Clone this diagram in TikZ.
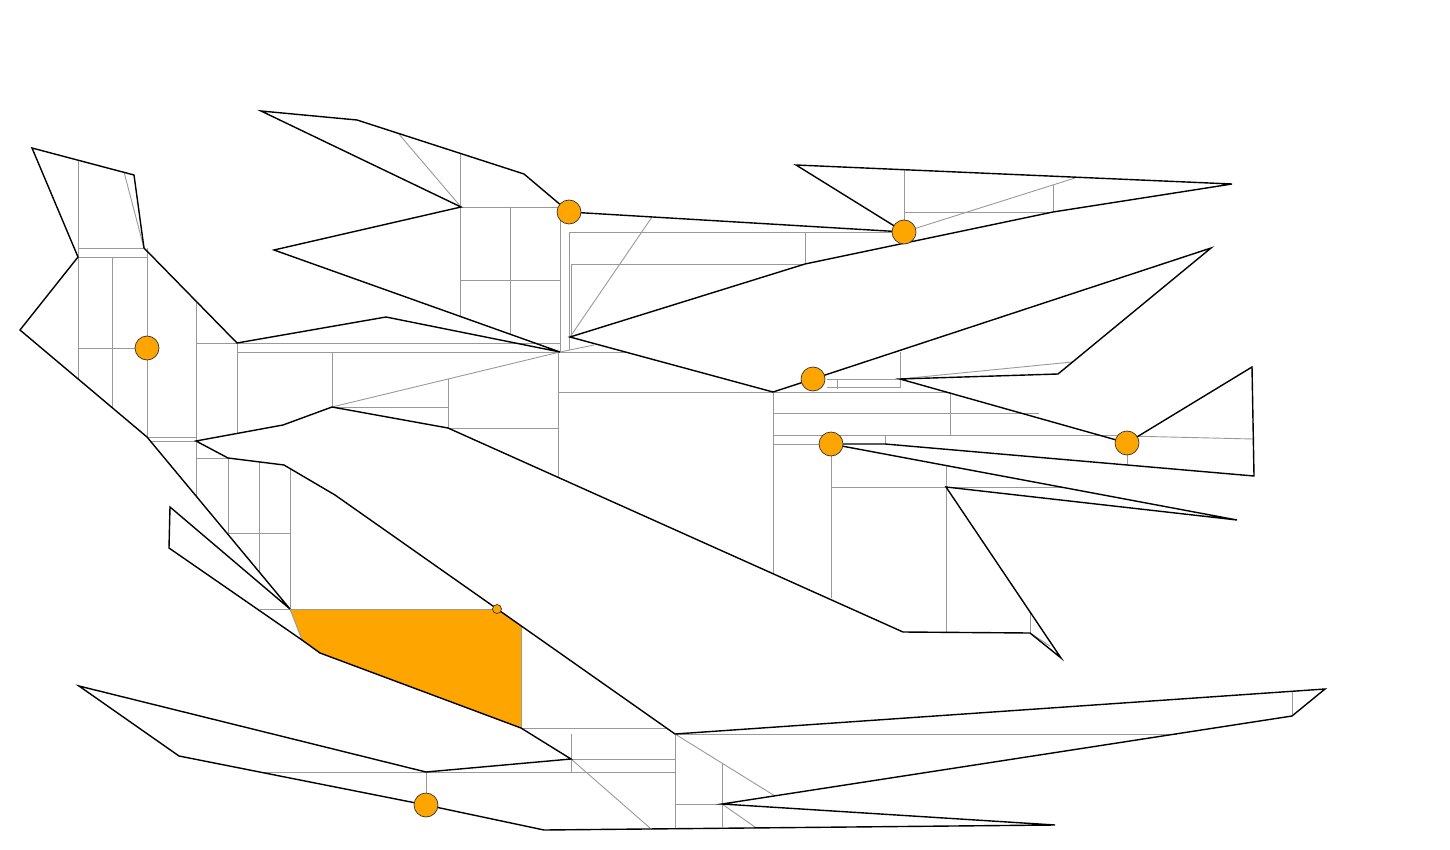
\documentclass[tikz,border=0pt]{standalone}
\usetikzlibrary{calc}
\begin{document}
\begin{tikzpicture}[x=1pt,y=-1pt,
  edge/.style={draw=black,line width=1.4pt,line join=miter},
  aux/.style={draw=gray!80,line width=0.9pt},
  guard/.style={circle,fill=orange,draw=black!80,line width=0.7pt,minimum size=24pt,inner sep=0pt},
  smallguard/.style={circle,fill=orange,draw=black!80,line width=0.7pt,minimum size=9pt,inner sep=0pt}]
\useasboundingbox (0,0) rectangle (1450,850);
\definecolor{orange}{HTML}{FFA500}
% highlighted region
\fill[orange] (290,609) -- (497,609) -- (521,626) -- (521,728) -- (320,653) -- (302,640) -- cycle;
% auxiliary (decomposition) lines
\draw[aux] (78,160) -- (78,379);
\draw[aux] (124,172) -- (144,248);
\draw[aux] (78,248) -- (144,248);
\draw[aux] (78,257) -- (147,257);
\draw[aux] (112,257) -- (112,407);
\draw[aux] (147,248) -- (147,437);
\draw[aux] (78,348) -- (147,348);
\draw[aux] (196,301) -- (196,496);
\draw[aux] (196,343) -- (237,343);
\draw[aux] (237,343) -- (237,433);
\draw[aux] (237,343) -- (560,343);
\draw[aux] (237,352) -- (560,352);
\draw[aux] (147,437) -- (196,437);
\draw[aux] (150,441) -- (196,441);
\draw[aux] (196,458) -- (228,458);
\draw[aux] (228,458) -- (228,534);
\draw[aux] (259,462) -- (259,572);
\draw[aux] (228,533) -- (290,533);
\draw[aux] (290,468) -- (290,609);
\draw[aux] (260,609) -- (497,609);
\draw[aux] (290,609) -- (302,640);
\draw[aux] (521,626) -- (521,728);
\draw[aux] (398,133) -- (461,207);
\draw[aux] (460,153) -- (460,316);
\draw[aux] (460,207) -- (560,207);
\draw[aux] (510,207) -- (510,334);
\draw[aux] (460,280) -- (560,280);
\draw[aux] (560,212) -- (560,352);
\draw[aux] (569,232) -- (569,350);
\draw[aux] (569,232) -- (900,232);
\draw[aux] (805,232) -- (805,264);
\draw[aux] (571,264) -- (805,264);
\draw[aux] (571,264) -- (571,336);
\draw[aux] (652,217) -- (570,337);
\draw[aux] (560,352) -- (332,407);
\draw[aux] (560,352) -- (594,345);
\draw[aux] (560,352) -- (625,352);
\draw[aux] (332,352) -- (332,407);
\draw[aux] (448,379) -- (448,428);
\draw[aux] (332,407) -- (448,407);
\draw[aux] (448,428) -- (558,428);
\draw[aux] (558,352) -- (558,477);
\draw[aux] (558,392) -- (773,392);
\draw[aux] (773,392) -- (773,574);
\draw[aux] (904,170) -- (904,232);
\draw[aux] (904,212) -- (1053,212);
\draw[aux] (1053,185) -- (1053,212);
\draw[aux] (904,232) -- (1075,178);
\draw[aux] (900,352) -- (900,388);
\draw[aux] (900,379) -- (1072,362);
\draw[aux] (827,379) -- (900,379);
\draw[aux] (827,387) -- (900,387);
\draw[aux] (837,379) -- (837,389);
\draw[aux] (773,392) -- (950,392);
\draw[aux] (950,392) -- (950,435);
\draw[aux] (773,413) -- (1039,413);
\draw[aux] (773,435) -- (1127,435);
\draw[aux] (1127,436) -- (1253,439);
\draw[aux] (773,444) -- (831,444);
\draw[aux] (885,435) -- (885,444);
\draw[aux] (831,444) -- (831,598);
\draw[aux] (831,487) -- (1061,487);
\draw[aux] (946,466) -- (946,632);
\draw[aux] (1127,455) -- (1127,465);
\draw[aux] (1030,613) -- (1030,633);
\draw[aux] (1030,633) -- (1050,646);
\draw[aux] (521,728) -- (667,728);
\draw[aux] (571,734) -- (571,772);
\draw[aux] (571,759) -- (675,759);
\draw[aux] (263,772) -- (675,772);
\draw[aux] (426,772) -- (426,793);
\draw[aux] (571,759) -- (650,828);
\draw[aux] (675,734) -- (675,828);
\draw[aux] (675,734) -- (775,796);
\draw[aux] (722,763) -- (722,827);
\draw[aux] (675,804) -- (722,804);
\draw[aux] (722,804) -- (755,827);
\draw[aux] (675,734) -- (1177,734);
\draw[aux] (1292,692) -- (1292,716);
% polygon boundary
\draw[edge] (147,437) -- (290,609) -- (170,507) -- (169,548) -- (302,640) -- (320,653)
  -- (521,728) -- (571,759) -- (426,772) -- (79,686) -- (179,756) -- (426,805)
  -- (544,830) -- (1055,825) -- (722,804) -- (1292,716) -- (1325,689) -- (675,734)
  -- (335,495) -- (284,465) -- (228,458) -- (196,441) -- (283,425) -- (332,407)
  -- (448,428) -- (903,632) -- (1030,633) -- (1061,658) -- (946,487) -- (1237,520)
  -- (831,444) -- (885,444) -- (1254,476) -- (1252,367) -- (1127,443) -- (900,379)
  -- (1058,374) -- (1211,248) -- (813,379) -- (773,392) -- (570,337) -- (805,264)
  -- (1053,212) -- (1232,184) -- (796,165) -- (904,232) -- (569,212) -- (524,174)
  -- (357,120) -- (261,111) -- (461,207) -- (274,250) -- (560,352) -- (386,317)
  -- (237,343) -- (144,248) -- (134,175) -- (32,148) -- (78,257) -- (20,330) -- cycle;
% guards
\node[guard] (g1) at (147,348) {};
\node[guard] (g2) at (569,212) {};
\node[guard] (g3) at (904,232) {};
\node[guard] (g4) at (813,379) {};
\node[guard] (g5) at (831,444) {};
\node[guard] (g6) at (1127,443) {};
\node[guard] (g7) at (426,805) {};
\node[smallguard] (g8) at (497,609) {};
\end{tikzpicture}
\end{document}
